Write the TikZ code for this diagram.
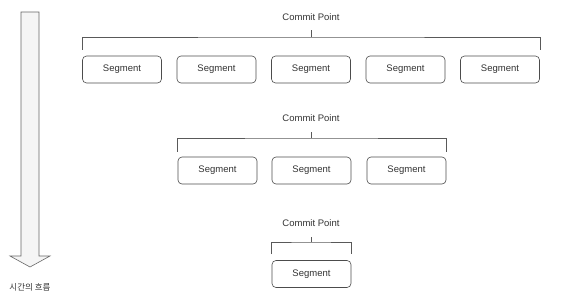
\documentclass[tikz,border=0pt]{standalone}
\usepackage{fontspec}
\setmainfont{Liberation Sans}
\newfontfamily\krfont{Noto Sans CJK KR}
\begin{document}
\begin{tikzpicture}[x=1pt,y=-1pt,
  seg/.style={draw=black!70, rounded corners=4pt, minimum width=79pt, minimum height=27pt, inner sep=0pt, font=\fontsize{9.5}{11}\selectfont, text=black!80, line width=0.6pt},
  cplabel/.style={font=\fontsize{9.5}{11}\selectfont, text=black!80, inner sep=1pt},
  brk/.style={draw=black!65, line width=0.6pt}]
\useasboundingbox (0,0) rectangle (563,298);
% time arrow
\draw[draw=black!60, fill=black!4, line width=0.6pt] (21,12) -- (39,12) -- (39,256) -- (50,256) -- (30,267) -- (10,256) -- (21,256) -- cycle;
\node[font=\krfont\fontsize{8.5}{10}\selectfont, text=black!80] (lbl) at (30,287) {시간의 흐름};
% row 1
\node[cplabel] (cp1) at (311,17) {Commit Point};
\foreach \i/\x in {1/122,2/216.5,3/311,4/405.5,5/500}
  \node[seg] (s1\i) at (\x,69.5) {Segment};
\coordinate (t1a) at (311,30); \coordinate (t1b) at (311,37);
\draw[brk] ([yshift=6pt]s11.north west) |- (t1b) -| ([yshift=6pt]s15.north east);
\draw[brk] (t1a) -- (t1b);
% row 2
\node[cplabel] (cp2) at (311,118) {Commit Point};
\foreach \i/\x in {1/217.5,2/311.5,3/406.5}
  \node[seg] (s2\i) at (\x,170.5) {Segment};
\coordinate (t2a) at (311,132); \coordinate (t2b) at (311,138);
\draw[brk] ([yshift=5pt]s21.north west) |- (t2b) -| ([yshift=5pt]s23.north east);
\draw[brk] (t2a) -- (t2b);
% row 3
\node[cplabel] (cp3) at (311,223) {Commit Point};
\node[seg] (s31) at (311.5,274) {Segment};
\coordinate (t3a) at (311,237); \coordinate (t3b) at (311,242);
\draw[brk] ([yshift=6pt]s31.north west) |- (t3b) -| ([yshift=6pt]s31.north east);
\draw[brk] (t3a) -- (t3b);
\end{tikzpicture}
\end{document}
